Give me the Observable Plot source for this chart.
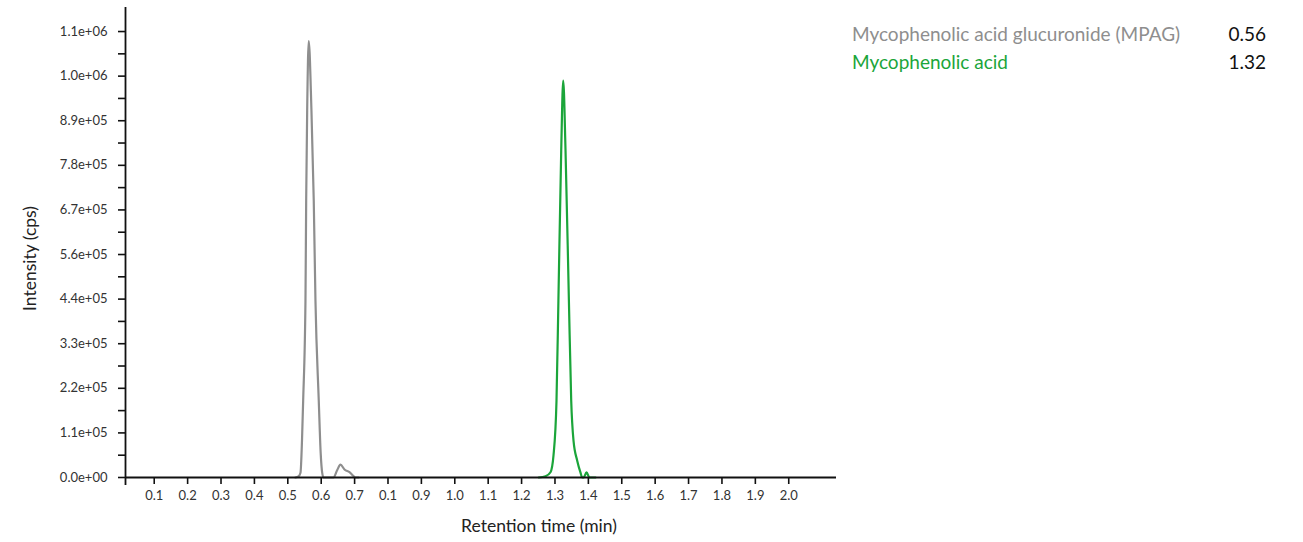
<!DOCTYPE html>
<html>
<head>
<meta charset="utf-8">
<script src="https://cdn.jsdelivr.net/npm/d3@7"></script>
<script src="https://cdn.jsdelivr.net/npm/@observablehq/plot@0.6"></script>
<style>
  html, body { margin: 0; padding: 0; background: #fff; }
  #wrap { position: relative; width: 1303px; height: 542px; font-family: Lato, "Open Sans", sans-serif; }
  #legend { position: absolute; left: 852px; top: 21px; width: 414px; font-size: 19px; }
  .row { display: flex; justify-content: space-between; height: 28px; line-height: 26px; }
  .row .v { color: #111; }
</style>
</head>
<body>
<div id="wrap">
  <div id="chart"></div>
  <div id="legend"></div>
</div>
<script>
// ---- data ----
const seriesNames = ["Mycophenolic acid glucuronide (MPAG)", "Mycophenolic acid"];
const retentionTimes = ["0.56", "1.32"];
const seriesColors = ["#8e8e8e", "#1ba53a"];

// MPAG trace: retention time (min), intensity (cps)
const mpagTime = [0.523, 0.532, 0.538, 0.5425, 0.546, 0.5529, 0.555, 0.558, 0.5627, 0.5708, 0.5777, 0.5828, 0.5927, 0.5985, 0.6029, 0.6068, 0.62, 0.6367, 0.6477, 0.6577, 0.6697, 0.6855, 0.6950, 0.7026, 0.712];
const mpagIntensity = [0, 3000, 12000, 92000, 192000, 441000, 690000, 914000, 1087000, 914000, 690000, 441000, 192000, 60000, 12000, 0, 0, 0, 18000, 32000, 20000, 13000, 5000, 0, 0];

// Mycophenolic acid trace
const mpaTime = [1.2515, 1.2716, 1.2866, 1.2956, 1.3046, 1.3103, 1.3187, 1.3247, 1.3316, 1.3417, 1.3486, 1.3555, 1.3666, 1.3765, 1.3816, 1.386, 1.3945, 1.403, 1.4214];
const mpaIntensity = [0, 3000, 13000, 55000, 192000, 441000, 815000, 989000, 815000, 441000, 192000, 92000, 42000, 12000, 0, 0, 13000, 0, 0];

const xTickValues = [0.1, 0.2, 0.3, 0.4, 0.5, 0.6, 0.7, 0.8, 0.9, 1.0, 1.1, 1.2, 1.3, 1.4, 1.5, 1.6, 1.7, 1.8, 1.9, 2.0];
const xTickLabels = ["0.1", "0.2", "0.3", "0.4", "0.5", "0.6", "0.7", "0.1", "0.9", "1.0", "1.1", "1.2", "1.3", "1.4", "1.5", "1.6", "1.7", "1.8", "1.9", "2.0"];
const yTickValues = [0, 111111, 222222, 333333, 444444, 555555, 666666, 777777, 888888, 1000000, 1111111];
const yTickLabels = ["0.0e+00", "1.1e+05", "2.2e+05", "3.3e+05", "4.4e+05", "5.6e+05", "6.7e+05", "7.8e+05", "8.9e+05", "1.0e+06", "1.1e+06"];
const yMinorTicks = [55555, 166666, 277777, 388888, 499999, 611111, 722222, 833333, 944444, 1055555];

const xLabel = "Retention time (min)";
const yLabel = "Intensity (cps)";

// ---- build ----
const mpag = mpagTime.map((t, i) => ({t, v: mpagIntensity[i], s: seriesNames[0]}));
const mpa = mpaTime.map((t, i) => ({t, v: mpaIntensity[i], s: seriesNames[1]}));
const xLab = new Map(xTickValues.map((d, i) => [d, xTickLabels[i]]));
const yLab = new Map(yTickValues.map((d, i) => [d, yTickLabels[i]]));

const xDomain = [0.014, 2.143];
const axisColor = "#111";
const labelColor = "#333";

const chart = Plot.plot({
  width: 1303,
  height: 542,
  marginLeft: 125,
  marginRight: 467,
  marginTop: 7,
  marginBottom: 65,
  style: {fontFamily: "Lato, 'Open Sans', sans-serif", background: "transparent"},
  x: {domain: xDomain},
  y: {domain: [0, 1171000]},
  marks: [
    Plot.line(mpag, {x: "t", y: "v", stroke: seriesColors[0], strokeWidth: 2.2, curve: "monotone-x"}),
    Plot.line(mpa, {x: "t", y: "v", stroke: seriesColors[1], strokeWidth: 2.2, curve: "monotone-x"}),
    Plot.ruleY([0], {stroke: axisColor, strokeWidth: 1.8}),
    Plot.ruleX([xDomain[0]], {stroke: axisColor, strokeWidth: 1.8, insetBottom: -8}),
    Plot.axisX({ticks: xTickValues, tickFormat: d => xLab.get(d), tickSize: 7, tickPadding: 6, label: null, fontSize: 13, color: labelColor, stroke: axisColor, strokeWidth: 1.6}),
    Plot.axisY({ticks: yTickValues, tickFormat: d => yLab.get(d), tickSize: 7, tickPadding: 11, label: null, fontSize: 13, color: labelColor, stroke: axisColor, strokeWidth: 1.6}),
    Plot.axisY({ticks: yMinorTicks, tickFormat: () => "", tickSize: 7, label: null, stroke: axisColor, strokeWidth: 1.6}),
    Plot.text([xLabel], {frameAnchor: "bottom", textAnchor: "middle", dx: 58, dy: 49, fontSize: 17.5, fill: "#222", lineAnchor: "middle"}),
    Plot.text([yLabel], {frameAnchor: "left", textAnchor: "middle", dx: -95, dy: 16, rotate: -90, fontSize: 17.5, fill: "#222", lineAnchor: "middle"})
  ]
});
document.getElementById("chart").appendChild(chart);

const legend = document.getElementById("legend");
seriesNames.forEach((n, i) => {
  const row = document.createElement("div");
  row.className = "row";
  const a = document.createElement("span");
  a.textContent = n;
  a.style.color = seriesColors[i];
  const b = document.createElement("span");
  b.className = "v";
  b.textContent = retentionTimes[i];
  row.appendChild(a); row.appendChild(b);
  legend.appendChild(row);
});
</script>
</body>
</html>
